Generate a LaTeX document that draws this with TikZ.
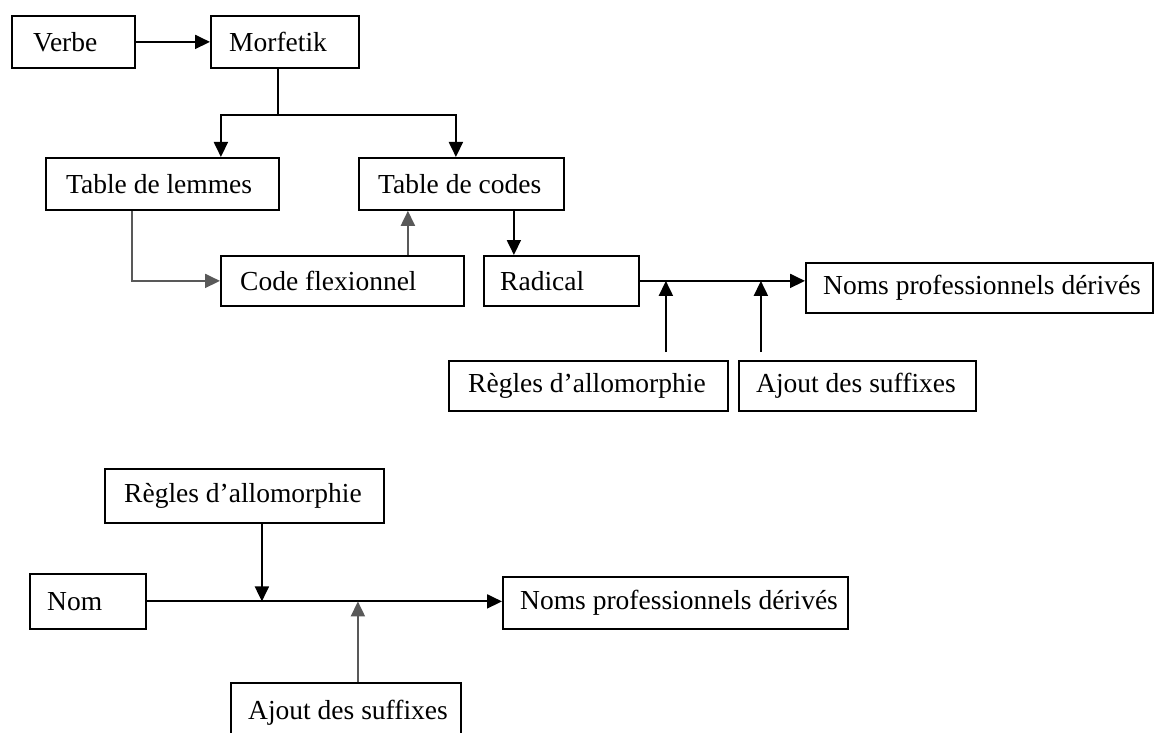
\documentclass[tikz,border=0pt]{standalone}
\usepackage{fontspec}
\setmainfont{Liberation Serif}
\usetikzlibrary{arrows.meta}
\tikzset{
  box/.style={draw, line width=1.8pt, anchor=north west, inner sep=0pt},
  lbl/.style={anchor=west, inner sep=0pt, font=\fontsize{27.5}{32}\selectfont},
  conn/.style={line width=1.9pt, -{Triangle[length=15pt,width=14pt]}},
  plain/.style={line width=1.9pt},
  soft/.style={draw=black!65},
}
% Box: name, top-left corner, width, height, text, left padding
\newcommand{\flowbox}[7]{%
  \node[box, minimum width=#4pt, minimum height=#5pt] (#1) at (#2,#3) {};
  \node[lbl] (#1-t) at ([xshift=#7pt]#1.west) {#6};
}
\begin{document}
\begin{tikzpicture}[x=1pt, y=-1pt]
\useasboundingbox (0,0) rectangle (1154,733);

% upper chain
\flowbox{verbe}{11}{15}{123}{52}{Verbe}{22}
\flowbox{morf}{210}{15}{148}{52}{Morfetik}{19}
\flowbox{lem}{45}{157}{233}{52}{Table de lemmes}{21}
\flowbox{codes}{358}{157}{205}{52}{Table de codes}{20}
\flowbox{flex}{220}{255}{243}{50}{Code flexionnel}{20}
\flowbox{rad}{483}{255}{155}{50}{Radical}{17}
\flowbox{noms}{805}{262}{347}{50}{Noms professionnels dérivés}{18}
\flowbox{regA}{448}{360}{279}{50}{Règles d’allomorphie}{20}
\flowbox{ajA}{738}{360}{237}{50}{Ajout des suffixes}{18}

\coordinate (split) at (278,115);
\draw[conn] (verbe.east) -- (morf.west);
\draw[plain] (split |- morf.south) -- (split);
\draw[conn] (split) -| ([xshift=58.5pt]lem.north);
\draw[conn] (split) -| ([xshift=-5.5pt]codes.north);
\draw[conn, soft] ([xshift=-30.5pt]lem.south) |- (flex.west);
\draw[conn, soft] ([xshift=65.5pt]flex.north) -- ([xshift=65.5pt]flex.north |- codes.south);
\draw[conn] ([xshift=52.5pt]codes.south) -- ([xshift=52.5pt]codes.south |- rad.north);
\draw[conn] (rad.east) -- (rad.east -| noms.west);
\draw[conn] ([xshift=77.5pt,yshift=8pt]regA.north) -- ([xshift=77.5pt]regA.north |- rad.east);
\draw[conn] ([xshift=-96.5pt,yshift=8pt]ajA.north) -- ([xshift=-96.5pt]ajA.north |- rad.east);

% lower chain
\flowbox{nom}{29}{573}{116}{55}{Nom}{18}
\flowbox{nomsB}{502}{576}{345}{52}{Noms professionnels dérivés}{18}
\flowbox{regB}{104}{468}{279}{54}{Règles d’allomorphie}{20}
\flowbox{ajB}{230}{682}{230}{60}{Ajout des suffixes}{18}

\draw[conn] (nom.east) -- (nom.east -| nomsB.west);
\draw[conn] ([xshift=17.5pt]regB.south) -- ([xshift=17.5pt]regB.south |- nom.east);
\draw[conn, soft] ([xshift=12pt]ajB.north) -- ([xshift=12pt]ajB.north |- nom.east);
\end{tikzpicture}
\end{document}
